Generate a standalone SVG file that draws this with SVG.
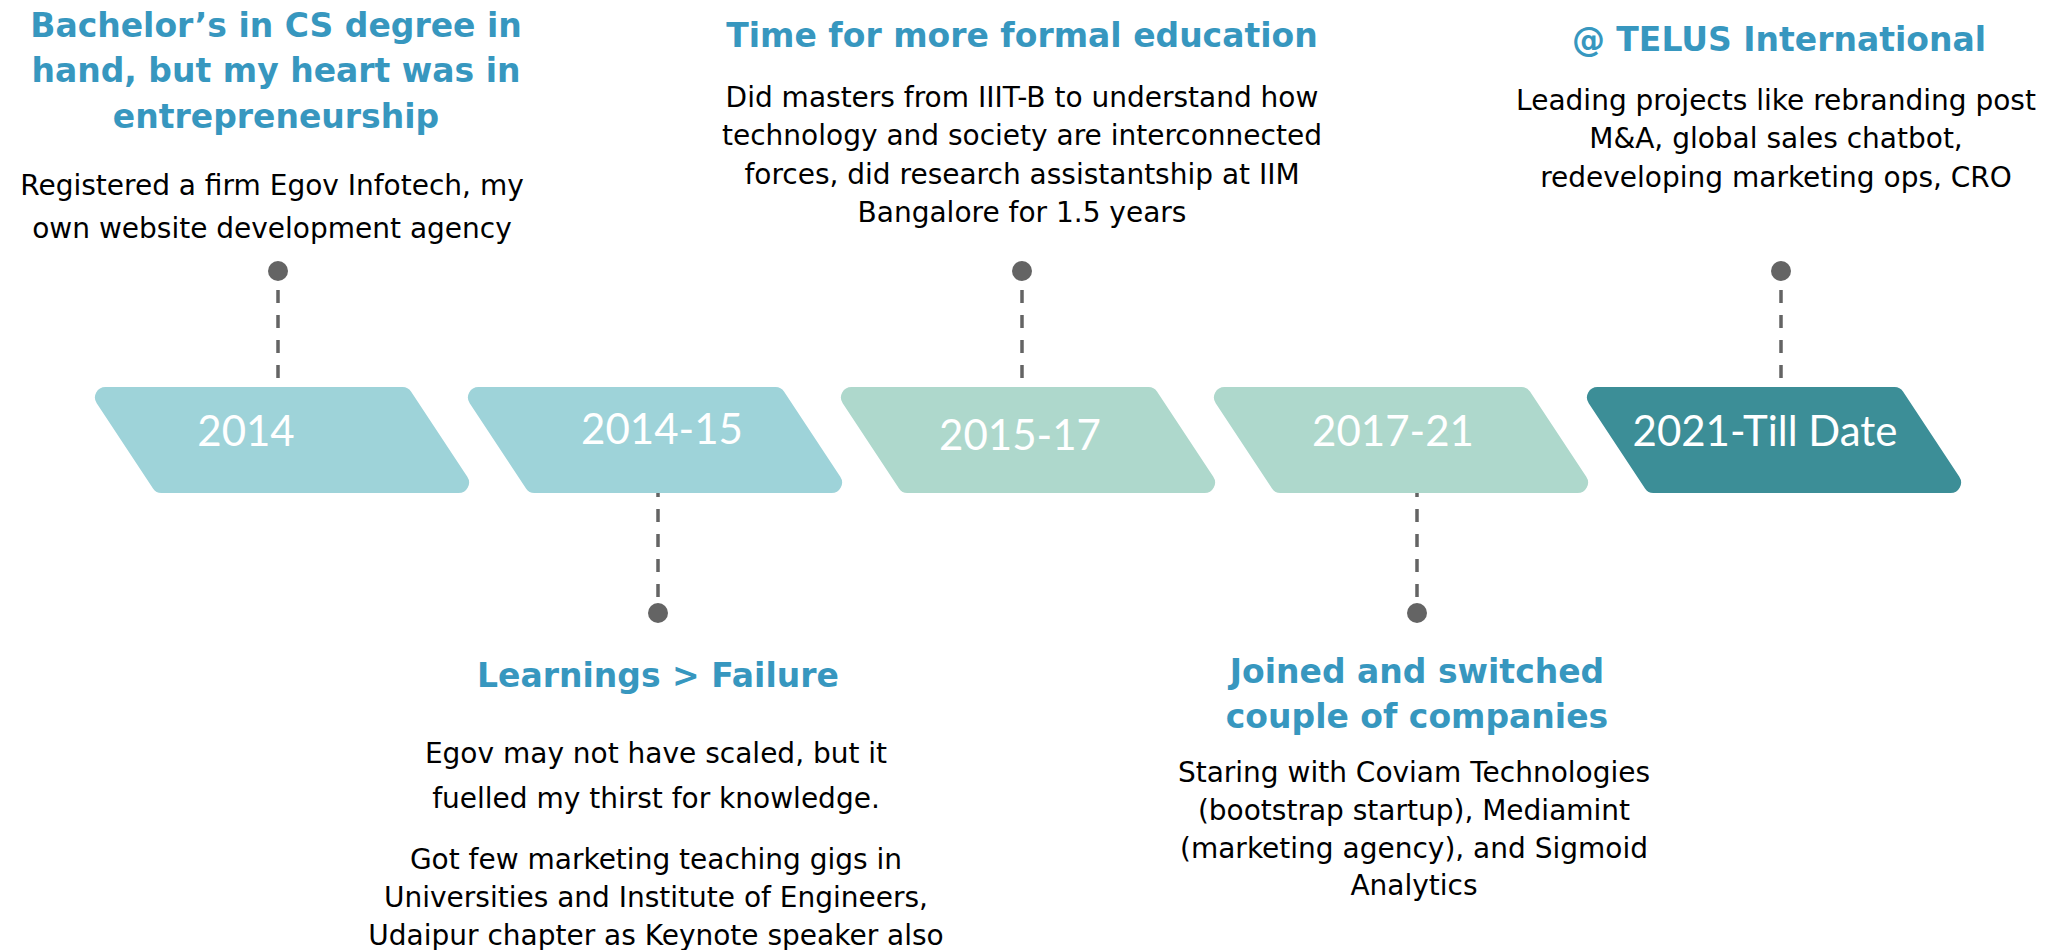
<svg xmlns="http://www.w3.org/2000/svg" xmlns:xlink="http://www.w3.org/1999/xlink" width="2059" height="950" viewBox="0 0 2059 950">
  <style>
    .band-blue { fill: #9ED3D9; }
    .band-mint { fill: #AED8CC; }
    .band-teal { fill: #3C8E97; }
    .year { font-family: Lato, "Liberation Sans", sans-serif; font-size: 42px; fill: #FFFFFF; text-anchor: middle; }
    .head { font-family: "DejaVu Sans", Verdana, sans-serif; font-weight: bold; font-size: 33px; fill: #3797BF; text-anchor: middle; }
    .body { font-family: "DejaVu Sans", Verdana, sans-serif; font-size: 28px; fill: #000000; text-anchor: middle; }
    .dot { fill: #646464; }
    .dash { stroke: #646464; stroke-width: 3.5; stroke-dasharray: 13 12; fill: none; }
  </style>
  <defs>
    <!-- slanted band with filleted corners; each stage is offset by 373px -->
    <path id="band" d="M105.5,387 L402.6,387 A10,10 0 0 1 411,391.5 L467.3,476.7 A10.5,10.5 0 0 1 458.5,493 L161.4,493 A10,10 0 0 1 153,488.5 L96.7,403.3 A10.5,10.5 0 0 1 105.5,387 Z"/>
  </defs>

  <rect x="0" y="0" width="2059" height="950" fill="#FFFFFF"/>

  <!-- dashed leaders between bands and dots -->
  <g id="connectors">
    <line class="dash" x1="278" y1="290" x2="278" y2="387"/>
    <line class="dash" x1="658" y1="597" x2="658" y2="493"/>
    <line class="dash" x1="1022" y1="290" x2="1022" y2="387"/>
    <line class="dash" x1="1417" y1="597" x2="1417" y2="493"/>
    <line class="dash" x1="1781" y1="290" x2="1781" y2="387"/>
  </g>

  <g id="stage-2014">
    <use xlink:href="#band" href="#band" class="band-blue"/>
    <text class="year" x="246" y="446">2014</text>
    <circle class="dot" cx="278" cy="271" r="10"/>
    <text class="head" x="276" y="37">Bachelor’s in CS degree in</text>
    <text class="head" x="276" y="82">hand, but my heart was in</text>
    <text class="head" x="276" y="128">entrepreneurship</text>
    <text class="body" x="272" y="195">Registered a firm Egov Infotech, my</text>
    <text class="body" x="272" y="238">own website development agency</text>
  </g>

  <g id="stage-2014-15">
    <use xlink:href="#band" href="#band" class="band-blue" transform="translate(373,0)"/>
    <text class="year" x="662" y="444">2014-15</text>
    <circle class="dot" cx="658" cy="613" r="10"/>
    <text class="head" x="658" y="687">Learnings &gt; Failure</text>
    <text class="body" x="656" y="763">Egov may not have scaled, but it</text>
    <text class="body" x="656" y="808">fuelled my thirst for knowledge.</text>
    <text class="body" x="656" y="869">Got few marketing teaching gigs in</text>
    <text class="body" x="656" y="907">Universities and Institute of Engineers,</text>
    <text class="body" x="656" y="945">Udaipur chapter as Keynote speaker also</text>
  </g>

  <g id="stage-2015-17">
    <use xlink:href="#band" href="#band" class="band-mint" transform="translate(746,0)"/>
    <text class="year" x="1020" y="450">2015-17</text>
    <circle class="dot" cx="1022" cy="271" r="10"/>
    <text class="head" x="1022" y="47">Time for more formal education</text>
    <text class="body" x="1022" y="107">Did masters from IIIT-B to understand how</text>
    <text class="body" x="1022" y="145">technology and society are interconnected</text>
    <text class="body" x="1022" y="184">forces, did research assistantship at IIM</text>
    <text class="body" x="1022" y="222">Bangalore for 1.5 years</text>
  </g>

  <g id="stage-2017-21">
    <use xlink:href="#band" href="#band" class="band-mint" transform="translate(1119,0)"/>
    <text class="year" x="1393" y="446">2017-21</text>
    <circle class="dot" cx="1417" cy="613" r="10"/>
    <text class="head" x="1417" y="683">Joined and switched</text>
    <text class="head" x="1417" y="728">couple of companies</text>
    <text class="body" x="1414" y="782">Staring with Coviam Technologies</text>
    <text class="body" x="1414" y="820">(bootstrap startup), Mediamint</text>
    <text class="body" x="1414" y="858">(marketing agency), and Sigmoid</text>
    <text class="body" x="1414" y="895">Analytics</text>
  </g>

  <g id="stage-2021">
    <use xlink:href="#band" href="#band" class="band-teal" transform="translate(1492,0)"/>
    <text class="year" x="1765" y="446">2021-Till Date</text>
    <circle class="dot" cx="1781" cy="271" r="10"/>
    <text class="head" x="1779" y="51">@ TELUS International</text>
    <text class="body" x="1776" y="110">Leading projects like rebranding post</text>
    <text class="body" x="1776" y="148">M&amp;A, global sales chatbot,</text>
    <text class="body" x="1776" y="187">redeveloping marketing ops, CRO</text>
  </g>
</svg>
